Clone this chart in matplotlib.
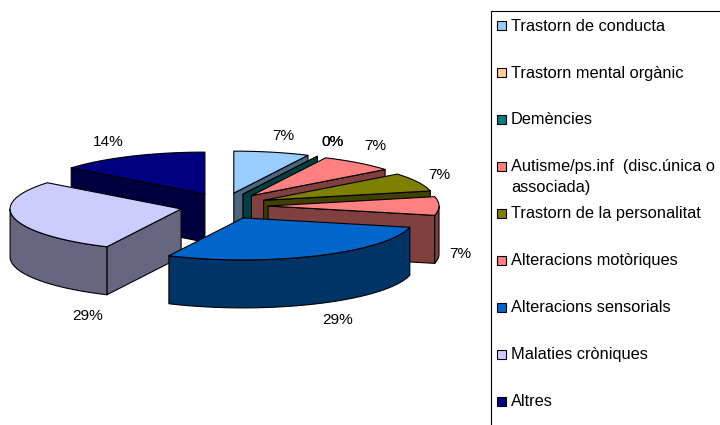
import numpy as np
import matplotlib
matplotlib.use("Agg")
import matplotlib.pyplot as plt
from matplotlib.patches import Polygon, Rectangle

plt.rcParams['font.family'] = ['Liberation Sans', 'DejaVu Sans']

categories = ["Trastorn de conducta", "Trastorn mental orgànic", "Demències",
              "Autisme/ps.inf  (disc.única o\nassociada)", "Trastorn de la personalitat",
              "Alteracions motòriques", "Alteracions sensorials", "Malaties cròniques", "Altres"]
counts = [1, 0, 0, 1, 1, 1, 4, 4, 2]
colors = ["#99CCFF", "#FFCC99", "#008080", "#FF8080", "#808000",
          "#FF8080", "#0066CC", "#CCCCFF", "#000080"]
label_xy = [(283, 135.5), (333, 141.5), (333, 141.5), (375, 146.5), (439, 174.5),
            (460, 254.5), (338, 319.5), (88, 316.5), (108, 141.5)]
legend_y = [25.5, 72.5, 119, 166, 213, 260, 307, 354, 401]

W, H = 720, 425
CX, CY, RX, RY, DEPTH = 224, 206, 171, 42, 48
EX, EY = 44, 13.2
LW = 0.8

fig = plt.figure(figsize=(W / 100, H / 100), dpi=100)
ax = fig.add_axes([0, 0, 1, 1])
ax.set_xlim(0, W)
ax.set_ylim(H, 0)
ax.axis("off")


def darker(c):
    r, g, b = matplotlib.colors.to_rgb(c)
    return (r * .5, g * .5, b * .5)


def rim(apex, deg):
    t = np.radians(deg)
    return np.column_stack([apex[0] + RX * np.sin(t), apex[1] - RY * np.cos(t)])


def wall(pts, color, z):
    pts = np.asarray(pts)
    low = pts[::-1] + [0, DEPTH]
    ax.add_patch(Polygon(np.vstack([pts, low]), closed=True, fc=color, ec="black",
                         lw=LW, zorder=z, joinstyle="round"))


total = sum(counts)
order = [8, 7, 0, 1, 2, 3, 4, 5, 6]
bounds = np.cumsum([0] + counts) * 360 / total
for z, i in enumerate(order):
    a1, a2 = bounds[i], bounds[i + 1]
    mid = np.radians((a1 + a2) / 2)
    apex = np.array([CX + EX * np.sin(mid), CY - EY * np.cos(mid)])
    side = darker(colors[i])
    base = z * 10 + 1
    p1, p2 = rim(apex, [a1])[0], rim(apex, [a2])[0]
    if np.sin(np.radians(a1)) < -1e-6:
        wall([apex, p1], side, base)
    if np.sin(np.radians(a2)) > 1e-6:
        wall([p2, apex], side, base)
    lo, hi = max(a1, 90), min(a2, 270)
    if hi > lo:
        wall(rim(apex, np.linspace(lo, hi, 60)), side, base + 1)
    if a2 > a1:
        arc = rim(apex, np.linspace(a1, a2, 80))
        ax.add_patch(Polygon(np.vstack([apex, arc]), closed=True, fc=colors[i], ec="black",
                             lw=LW, zorder=base + 2, joinstyle="round"))

for v, (x, y) in zip(counts, label_xy):
    ax.text(x, y, f"{round(100 * v / total)}%", ha="center", va="center",
            fontsize=11.1, color="black", zorder=200)

ax.add_patch(Rectangle((490.5, 10.5), 300, 500, fc="white", ec="black", lw=LW, zorder=100))
for name, col, y in zip(categories, colors, legend_y):
    ax.add_patch(Rectangle((497, y - 4.5), 9, 9, fc=col, ec="black", lw=LW, zorder=101))
    first = name.split("\n")[0]
    ax.text(511, y + 0.8, first, ha="left", va="center", fontsize=11.8, color="black",
            zorder=102, clip_on=True)
    if "\n" in name:
        ax.text(511, y + 21.5, name.split("\n")[1], ha="left", va="center",
                fontsize=11.8, color="black", zorder=102)

fig.savefig("out.png", dpi=100, facecolor="white")
